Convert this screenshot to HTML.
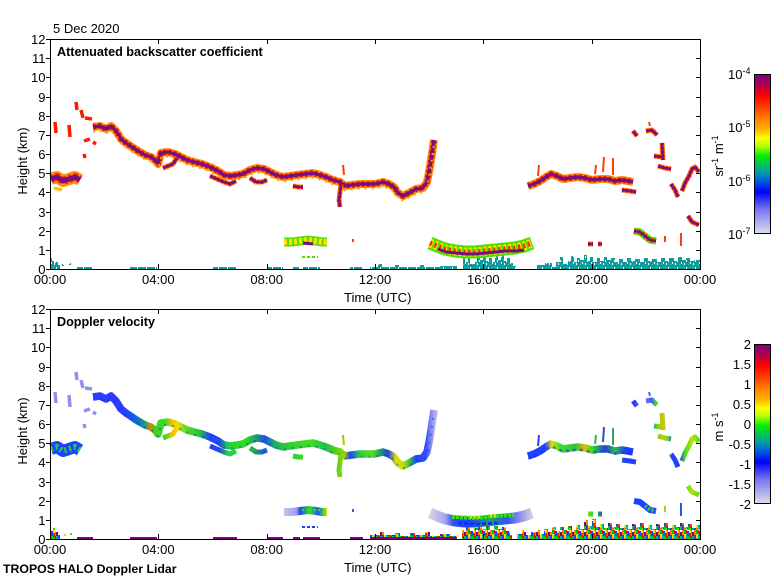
<!DOCTYPE html>
<html><head><meta charset="utf-8"><style>
html,body{margin:0;padding:0;background:#fff;}
svg{display:block;font-family:"Liberation Sans",Arial,Helvetica,sans-serif;}
</style></head><body>
<svg width="780" height="580" viewBox="0 0 780 580" xmlns="http://www.w3.org/2000/svg">
<defs>
<linearGradient id="cmap" x1="0" y1="0" x2="0" y2="1">
<stop offset="0" stop-color="#800080"/><stop offset="0.07" stop-color="#b0004a"/><stop offset="0.13" stop-color="#ff0000"/><stop offset="0.2" stop-color="#ff3a00"/><stop offset="0.27" stop-color="#ff7a00"/><stop offset="0.34" stop-color="#ffae00"/><stop offset="0.38" stop-color="#ffe000"/><stop offset="0.4" stop-color="#ffff00"/><stop offset="0.45" stop-color="#b8ff00"/><stop offset="0.51" stop-color="#00f000"/><stop offset="0.57" stop-color="#00c060"/><stop offset="0.62" stop-color="#009aa8"/><stop offset="0.68" stop-color="#0050e8"/><stop offset="0.74" stop-color="#0000ff"/><stop offset="0.85" stop-color="#7878f0"/><stop offset="1" stop-color="#dcdcee"/>
</linearGradient>
<linearGradient id="gv" gradientUnits="userSpaceOnUse" x1="50" y1="0" x2="700" y2="0">
<stop offset="0.0615" stop-color="#2a3cff"/><stop offset="0.1154" stop-color="#2a3cff"/><stop offset="0.1308" stop-color="#1060e0"/><stop offset="0.1462" stop-color="#10a080"/><stop offset="0.1538" stop-color="#e08000"/><stop offset="0.1615" stop-color="#40d020"/><stop offset="0.1769" stop-color="#30e020"/><stop offset="0.1877" stop-color="#f0c000"/><stop offset="0.1969" stop-color="#f0e000"/><stop offset="0.2077" stop-color="#60e020"/><stop offset="0.2308" stop-color="#20c040"/><stop offset="0.2462" stop-color="#2040ff"/><stop offset="0.2615" stop-color="#2050e0"/><stop offset="0.2738" stop-color="#20d040"/><stop offset="0.3" stop-color="#30e020"/><stop offset="0.3154" stop-color="#20a060"/><stop offset="0.3308" stop-color="#2050f0"/><stop offset="0.3462" stop-color="#20b060"/><stop offset="0.3692" stop-color="#30d030"/><stop offset="0.4" stop-color="#40e020"/><stop offset="0.4231" stop-color="#20c050"/><stop offset="0.4385" stop-color="#50d020"/><stop offset="0.4538" stop-color="#a0d000"/><stop offset="0.4615" stop-color="#2040ff"/><stop offset="0.4769" stop-color="#30d040"/><stop offset="0.4954" stop-color="#50e020"/><stop offset="0.5077" stop-color="#20a060"/><stop offset="0.52" stop-color="#2040e0"/><stop offset="0.5323" stop-color="#e0e000"/><stop offset="0.5431" stop-color="#c0e000"/><stop offset="0.5538" stop-color="#30c040"/><stop offset="0.5631" stop-color="#2040ff"/><stop offset="0.5785" stop-color="#3050ff"/><stop offset="0.5846" stop-color="#8080f0"/><stop offset="0.5923" stop-color="#b0b0f0"/><stop offset="0.7354" stop-color="#2040ff"/><stop offset="0.7615" stop-color="#2040ff"/><stop offset="0.7723" stop-color="#e0e000"/><stop offset="0.7846" stop-color="#40e020"/><stop offset="0.8077" stop-color="#30c040"/><stop offset="0.8231" stop-color="#e0c000"/><stop offset="0.8338" stop-color="#30e020"/><stop offset="0.8538" stop-color="#2040e0"/><stop offset="0.8692" stop-color="#30c040"/><stop offset="0.8846" stop-color="#2040ff"/><stop offset="0.9" stop-color="#2040ff"/><stop offset="0.9077" stop-color="#8080f0"/><stop offset="0.9262" stop-color="#4060ff"/><stop offset="0.9323" stop-color="#40e020"/><stop offset="0.9431" stop-color="#e0c000"/><stop offset="0.9508" stop-color="#60e020"/><stop offset="0.9569" stop-color="#2040ff"/><stop offset="0.9692" stop-color="#2040ff"/><stop offset="0.9769" stop-color="#40e020"/><stop offset="0.9877" stop-color="#c0e000"/><stop offset="1" stop-color="#40e020"/>
</linearGradient>
<linearGradient id="gF" gradientUnits="userSpaceOnUse" x1="428" y1="0" x2="533" y2="0">
<stop offset="0" stop-color="#d8d8e8"/><stop offset="0.16" stop-color="#a8a8ec"/><stop offset="0.24" stop-color="#3050f0"/><stop offset="0.4" stop-color="#2040ff"/><stop offset="0.59" stop-color="#20a060"/><stop offset="0.75" stop-color="#3050ff"/><stop offset="0.88" stop-color="#9090e8"/><stop offset="1" stop-color="#d8d8e0"/>
</linearGradient>
<linearGradient id="gG" gradientUnits="userSpaceOnUse" x1="283" y1="0" x2="327" y2="0">
<stop offset="0" stop-color="#c8c8e8"/><stop offset="0.3" stop-color="#a0a0f0"/><stop offset="0.39" stop-color="#2040ff"/><stop offset="0.61" stop-color="#30e020"/><stop offset="0.8" stop-color="#2050ff"/><stop offset="0.93" stop-color="#40e020"/><stop offset="1" stop-color="#e0e000"/>
</linearGradient>
<pattern id="spk" patternUnits="userSpaceOnUse" width="12" height="10">
<rect x="0" y="0" width="2" height="4" fill="#00c000"/><rect x="2" y="0" width="1" height="3" fill="#ff0000"/><rect x="3" y="1" width="2" height="5" fill="#2040ff"/><rect x="5" y="0" width="2" height="3" fill="#ffe000"/><rect x="7" y="0" width="1" height="6" fill="#00e040"/><rect x="8" y="2" width="2" height="4" fill="#800080"/><rect x="10" y="0" width="2" height="5" fill="#ff8000"/><rect x="0" y="4" width="2" height="4" fill="#e0e000"/><rect x="2" y="3" width="1" height="6" fill="#00b0a0"/><rect x="5" y="3" width="2" height="5" fill="#ff2000"/><rect x="3" y="6" width="2" height="4" fill="#00d000"/><rect x="7" y="6" width="1" height="4" fill="#c00050"/><rect x="8" y="6" width="2" height="4" fill="#00c060"/><rect x="10" y="5" width="2" height="5" fill="#2040ff"/><rect x="0" y="8" width="2" height="2" fill="#ff8000"/><rect x="5" y="8" width="2" height="2" fill="#40e000"/>
</pattern>
<pattern id="tsp" patternUnits="userSpaceOnUse" width="9" height="7">
<rect x="0" y="0" width="9" height="7" fill="#0f9b9b"/>
<rect x="2" y="1" width="1" height="2" fill="#ffffff"/><rect x="6" y="3" width="1" height="2" fill="#ffffff"/><rect x="4" y="5" width="1" height="1" fill="#40c080"/><rect x="8" y="0" width="1" height="2" fill="#20b0a8"/><rect x="0" y="4" width="1" height="2" fill="#ffffff"/>
</pattern>

<path id="pA" fill="none" stroke-linejoin="round" d="M93,127 L100,126 L106,129 L111,126 L116,131 L121,139 L126,143 L132,147 L138,151 L145,155 L151,157 L156,161 L158,164 L161,153 L168,152 L175,154 L181,157 L187,160 L194,162 L202,164 L210,167 L218,171 L224,175 L231,176 L237,175 L243,174 L250,170 L257,168 L264,169 L270,172 L276,175 L283,177 L290,176 L297,175 L305,174 L313,173 L320,175 L326,177 L333,180 L340,182 L345,186 L352,185 L360,184 L368,184 L375,184 L383,182 L389,184 L394,187 L398,193 L403,196 L409,193 L416,189 L423,188 L427,182 L429,172 L431,160 L433,147 L434,140"/>
<path id="pD" fill="none" stroke-linejoin="round" d="M528,186 L534,184 L540,181 L546,177 L551,174 L557,176 L563,179 L570,178 L578,177 L585,178 L592,180 L600,179 L608,179 L615,181 L622,180 L628,181 L633,182"/>
<path id="pFr" fill="none" stroke-linejoin="round" d="M163,168 L168,166 L173,164 L177,158 M210,176 L217,179 L224,182 L230,184 L236,181 M250,178 L256,182 L262,182 L267,180 M293,186 L298,187 L303,187 M341,184 L340,192 L339,200 L340,207 M633,131 L637,136 M646,131 L652,130 L657,135 M662,143 L663,160 M658,166 L665,168 L671,169 M654,156 L662,157 M671,184 L675,190 L678,197 M682,191 L685,183 L689,176 L692,169 L695,167 L699,172 M688,216 L692,222 L699,225 M622,190 L630,191 L636,192 M588,244 L593,244 M598,244 L602,244"/>
<path id="pSp" fill="none" d="M538,176 L539,165 M603,172 L604,157 M613,175 L613,158 M595,174 L596,165 M343,165 L344,175 M649,122 L650,126 M665,236 L665,242 M681,233 L681,246 M353,239 L353,242"/>
<path id="pC" fill="none" d="M55,122 L56,133 M69,125 L70,137 M81,110 L83,118 M85,118 L92,119 M84,141 L90,139 M93,142 L96,144 M76,102 L77,110 M84,154 L85,158"/>
<path id="pB" fill="none" stroke-linejoin="round" d="M51,179 L57,177 L63,181 L69,179 L75,177 L80,180"/>
<path id="pF" fill="none" stroke-linejoin="round" d="M430,243 L437,246 L445,249 L455,251 L465,252 L475,252 L485,251 L495,250 L505,249 L515,248 L524,246 L532,243"/>
<path id="pG" fill="none" d="M284,242 L292,242 L300,241 L308,240 L316,241 L322,242 L327,242"/>
<path id="pH" fill="none" stroke-linejoin="round" d="M634,231 L640,232 L645,236 L650,240 L656,241"/>

<g id="ax">
<rect x="50.5" y="39.5" width="650" height="230" fill="none" stroke="#000" stroke-width="1"/>
<path stroke="#000" stroke-width="1" fill="none" d="M46,269.5H50M46,250.5H50M46,231.5H50M46,212.5H50M46,192.5H50M46,173.5H50M46,154.5H50M46,135.5H50M46,116.5H50M46,97.5H50M46,77.5H50M46,58.5H50M46,39.5H50M696,250.5H700M696,231.5H700M696,212.5H700M696,192.5H700M696,173.5H700M696,154.5H700M696,135.5H700M696,116.5H700M696,97.5H700M696,77.5H700M696,58.5H700M158.5,40V44M267.5,40V44M375.5,40V44M483.5,40V44M592.5,40V44M158.5,264V269M267.5,264V269M375.5,264V269M483.5,264V269M592.5,264V269"/>
<g font-size="13" fill="#000" text-anchor="end">
<text x="45.5" y="274">0</text><text x="45.5" y="255">1</text><text x="45.5" y="236">2</text><text x="45.5" y="217">3</text><text x="45.5" y="197">4</text><text x="45.5" y="178">5</text><text x="45.5" y="159">6</text><text x="45.5" y="140">7</text><text x="45.5" y="121">8</text><text x="45.5" y="102">9</text><text x="45.5" y="82">10</text><text x="45.5" y="63">11</text><text x="45.5" y="44">12</text>
</g>
<g font-size="13" fill="#000" text-anchor="middle">
<text x="50" y="284">00:00</text><text x="158.3" y="284">04:00</text><text x="266.7" y="284">08:00</text><text x="375" y="284">12:00</text><text x="483.3" y="284">16:00</text><text x="591.7" y="284">20:00</text><text x="700" y="284">00:00</text>
<text transform="translate(27,161) rotate(-90)">Height (km)</text>
</g>
<text x="344" y="302" font-size="13">Time (UTC)</text>
</g>
</defs>

<text x="53" y="33" font-size="13">5 Dec 2020</text>

<!-- ===== TOP PANEL DATA ===== -->
<g>
<g fill="url(#tsp)">
<polygon points="50,269 50,258 52,258 52,261 54,261 54,263 56,263 56,262 58,262 58,265 60,265 60,269"/>
<rect x="62" y="264" width="2" height="2"/><rect x="69" y="263" width="2" height="2"/>
<rect x="77" y="267" width="16" height="2"/><rect x="130" y="267" width="27" height="2"/><rect x="213" y="267" width="24" height="2"/><rect x="267" y="267" width="16" height="2"/><rect x="293" y="267" width="7" height="2"/><rect x="303" y="267" width="17" height="2"/><rect x="350" y="267" width="13" height="2"/>
<polygon points="370,269 370,267 378,267 378,264 382,264 382,267 395,267 395,265 399,265 399,267 420,267 420,265 424,265 424,267 440,267 440,266 457,266 457,269"/>
<polygon points="463,269 463,256 465,256 465,262 468,262 468,253 470,253 470,264 474,264 474,262 477,262 477,257 480,257 480,260 483,260 483,255 486,255 486,261 489,261 489,258 492,258 492,262 495,262 495,256 498,256 498,260 501,260 501,255 504,255 504,261 507,261 507,258 510,258 510,263 513,263 513,266 516,266 516,269"/>
<polygon points="537,269 537,265 545,265 545,263 552,263 552,267 556,267 556,262 560,262 560,257 563,257 563,264 568,264 568,261 571,261 571,256 574,256 574,262 577,262 577,258 580,258 580,260 584,260 584,255 587,255 587,261 590,261 590,257 593,257 593,262 597,262 597,258 600,258 600,261 604,261 604,257 607,257 607,260 611,260 611,258 615,258 615,262 619,262 619,259 623,259 623,262 627,262 627,258 631,258 631,261 635,261 635,259 640,259 640,262 644,262 644,258 648,258 648,261 652,261 652,259 657,259 657,262 661,262 661,258 665,258 665,261 669,261 669,258 674,258 674,261 678,261 678,257 682,257 682,260 686,260 686,258 690,258 690,261 694,261 694,260 700,260 700,269"/>
</g>
<use href="#pF" stroke="#50e000" stroke-width="13"/>
<use href="#pF" stroke="#ffe000" stroke-width="9" stroke-dasharray="3 2"/>
<use href="#pF" stroke="#ff2000" stroke-width="5" stroke-dasharray="2 3"/>
<path d="M438,249 L446,252 L456,253 L466,254 L476,254 L486,253 L496,252 L506,251 L516,251 L524,250" fill="none" stroke="#7a0c80" stroke-width="3"/>
<use href="#pG" stroke="#50e000" stroke-width="9"/>
<use href="#pG" stroke="#ffe000" stroke-width="6" stroke-dasharray="3 2"/>
<path d="M303,243 L313,244" stroke="#7a0c80" stroke-width="3"/>
<path d="M302,257 L318,257" stroke="#50e000" stroke-width="2" stroke-dasharray="3 2"/>
<use href="#pH" stroke="#50e000" stroke-width="7"/>
<use href="#pH" stroke="#ff2000" stroke-width="5" stroke-dasharray="2 2"/>
<use href="#pH" stroke="#7a0c80" stroke-width="2.5"/>
<use href="#pB" stroke="#ff9000" stroke-width="12"/>
<use href="#pB" stroke="#ff2000" stroke-width="8" stroke-dasharray="3 2"/>
<use href="#pB" stroke="#7a0c80" stroke-width="5"/>
<path d="M54,188 L62,190" stroke="#ffc000" stroke-width="3"/>
<use href="#pC" stroke="#ff1a00" stroke-width="3.5"/>
<use href="#pA" stroke="#ff9000" stroke-width="8"/>
<use href="#pA" stroke="#ff2000" stroke-width="6" stroke-dasharray="3 2"/>
<use href="#pA" stroke="#7a0c80" stroke-width="3.5"/>
<use href="#pA" stroke="#ffa000" stroke-width="2" stroke-dasharray="2 5" transform="translate(0,4.5)"/>
<use href="#pD" stroke="#ff9000" stroke-width="8"/>
<use href="#pD" stroke="#ff2000" stroke-width="6" stroke-dasharray="3 2"/>
<use href="#pD" stroke="#7a0c80" stroke-width="3.5"/>
<use href="#pFr" stroke="#ff7a00" stroke-width="5"/>
<use href="#pFr" stroke="#ff1a00" stroke-width="4" stroke-dasharray="2 2"/>
<use href="#pFr" stroke="#7a0c80" stroke-width="2.5"/>
<use href="#pSp" stroke="#ff4000" stroke-width="2"/>
</g>

<!-- ===== BOTTOM PANEL DATA ===== -->
<g>
<g fill="#800080">
<rect x="77" y="537" width="16" height="2"/><rect x="130" y="537" width="27" height="2"/><rect x="213" y="537" width="24" height="2"/><rect x="267" y="537" width="16" height="2"/><rect x="293" y="537" width="7" height="2"/><rect x="303" y="537" width="17" height="2"/><rect x="350" y="537" width="13" height="2"/><rect x="370" y="537" width="87" height="2"/>
</g>
<g fill="url(#spk)">
<polygon points="50,539 50,530 53,530 53,528 55,528 55,532 58,532 58,535 60,535 60,539"/>
<polygon points="370,537 370,535 380,535 380,532 384,532 384,535 395,535 395,533 400,533 400,536 410,536 410,533 415,533 415,535 425,535 425,532 430,532 430,536 440,536 440,534 450,534 450,536 457,536 457,537"/>
<polygon points="462,539 462,530 466,530 466,526 470,526 470,531 474,531 474,528 478,528 478,524 482,524 482,529 486,529 486,525 490,525 490,530 494,530 494,526 498,526 498,529 502,529 502,527 506,527 506,531 510,531 510,535 512,535 512,539"/>
<polygon points="517,539 517,534 522,534 522,530 526,530 526,535 531,535 531,532 536,532 536,530 540,530 540,534 544,534 544,529 548,529 548,532 552,532 552,527 556,527 556,531 560,531 560,527 564,527 564,530 568,530 568,526 572,526 572,530 576,530 576,525 580,525 580,529 584,529 584,520 588,520 588,526 592,526 592,519 596,519 596,527 600,527 600,524 604,524 604,528 608,528 608,523 612,523 612,527 616,527 616,524 620,524 620,528 624,528 624,525 628,525 628,529 632,529 632,524 636,524 636,527 640,527 640,523 644,523 644,528 648,528 648,525 652,525 652,529 656,529 656,524 660,524 660,527 664,527 664,523 668,523 668,528 672,528 672,525 676,525 676,527 680,527 680,523 684,523 684,527 688,527 688,524 692,524 692,528 696,528 696,525 700,525 700,539"/>
</g>
<rect x="64" y="534" width="2" height="2" fill="#e0e000"/><rect x="70" y="533" width="2" height="2" fill="#40e000"/>
<g transform="translate(0,270)">
<use href="#pF" stroke="url(#gF)" stroke-width="11"/>
<path d="M452,247 L475,248 L495,246 L514,245" fill="none" stroke="#30e020" stroke-width="4" stroke-dasharray="3 1"/>
<path d="M458,253 L480,254 L500,253" fill="none" stroke="#1030ff" stroke-width="3" stroke-dasharray="4 2"/>
<path d="M470,247 L480,247 M490,246 L498,246" fill="none" stroke="#e0e000" stroke-width="3" stroke-dasharray="2 2"/>
<use href="#pG" stroke="url(#gG)" stroke-width="8"/>
<path d="M302,240 L320,240" stroke="#30e020" stroke-width="2" stroke-dasharray="2 2"/>
<path d="M302,257 L318,257" stroke="#2040ff" stroke-width="2" stroke-dasharray="3 2"/>
<use href="#pH" stroke="#2040ff" stroke-width="6"/>
<path d="M645,236 L650,240 L656,241" fill="none" stroke="#30d040" stroke-width="4" stroke-dasharray="2 2"/>
<use href="#pB" stroke="#2040ff" stroke-width="12"/>
<use href="#pB" stroke="#20d040" stroke-width="6" stroke-dasharray="2 3"/>
<use href="#pC" stroke="#9090f0" stroke-width="3.5"/>
<use href="#pA" stroke="url(#gv)" stroke-width="7.5"/>
<use href="#pA" stroke="#1030ff" stroke-width="2" stroke-dasharray="2 6" transform="translate(0,2.5)" opacity="0.5"/>
<use href="#pD" stroke="url(#gv)" stroke-width="7.5"/>
<use href="#pD" stroke="#1030ff" stroke-width="2.5" stroke-dasharray="3 4" transform="translate(0,2.5)" opacity="0.6"/>
<use href="#pFr" stroke="url(#gv)" stroke-width="5"/>
<use href="#pSp" stroke="url(#gv)" stroke-width="2"/>
</g>
</g>

<use href="#ax"/>
<use href="#ax" transform="translate(0,270)"/>

<text x="57" y="56" font-size="12.6" font-weight="bold">Attenuated backscatter coefficient</text>
<text x="57" y="326" font-size="12.6" font-weight="bold">Doppler velocity</text>
<text x="3" y="573" font-size="12.3" font-weight="bold">TROPOS HALO Doppler Lidar</text>

<rect x="754.5" y="74.5" width="16" height="159" fill="url(#cmap)" stroke="#000" stroke-width="1"/>
<rect x="754.5" y="344.5" width="16" height="159" fill="url(#cmap)" stroke="#000" stroke-width="1"/>
<g font-size="13">
<text x="728" y="79">10<tspan font-size="9" dy="-5">-4</tspan></text>
<text x="728" y="132">10<tspan font-size="9" dy="-5">-5</tspan></text>
<text x="728" y="186">10<tspan font-size="9" dy="-5">-6</tspan></text>
<text x="728" y="239">10<tspan font-size="9" dy="-5">-7</tspan></text>
<text transform="translate(723,156) rotate(-90)" text-anchor="middle">sr<tspan font-size="9" dy="-5">-1</tspan><tspan dy="5"> m</tspan><tspan font-size="9" dy="-5">-1</tspan></text>
</g>
<g font-size="13" text-anchor="end">
<text x="751" y="349">2</text><text x="751" y="369">1.5</text><text x="751" y="389">1</text><text x="751" y="409">0.5</text><text x="751" y="429">0</text><text x="751" y="449">-0.5</text><text x="751" y="469">-1</text><text x="751" y="489">-1.5</text><text x="751" y="509">-2</text>
</g>
<text font-size="13" transform="translate(723,427) rotate(-90)" text-anchor="middle">m s<tspan font-size="9" dy="-5">-1</tspan></text>
</svg>
</body></html>
